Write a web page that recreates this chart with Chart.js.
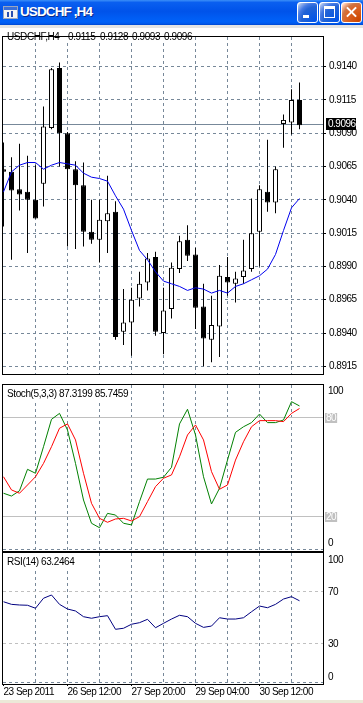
<!DOCTYPE html>
<html><head><meta charset="utf-8">
<script src="https://cdn.jsdelivr.net/npm/chart.js@4.4.0/dist/chart.umd.min.js"></script>
<style>
html,body{margin:0;padding:0;background:#fff;width:363px;height:703px;overflow:hidden;position:relative;}
#tb{position:absolute;left:0;top:0;width:363px;height:25px;background:linear-gradient(180deg,#3b8ff8 0%,#0a5ff0 10%,#0053ea 45%,#0061f8 85%,#005bf0 93%,#0047d0 100%);}
#ico{position:absolute;left:3px;top:6px;width:13px;height:11px;background:#f4f4f4;border:1px solid #9aa6c0;}
#ico .a{position:absolute;left:0;top:0;width:13px;height:3px;background:#3a6fd8;}
#ico .b{position:absolute;left:3px;top:5px;width:2px;height:5px;background:#2a4fb0;}
#ico .c{position:absolute;left:7px;top:4px;width:2px;height:6px;background:#2a4fb0;}
#ttl{position:absolute;left:20px;top:4px;color:#fff;font:bold 13.5px "Liberation Sans",Arial,sans-serif;letter-spacing:-0.9px;text-shadow:1px 1px #0a2a8a;white-space:pre;}
.btn{position:absolute;top:2px;width:19px;height:19px;border:1px solid #fff;border-radius:3px;background:radial-gradient(circle at 90% 90%,#0054e9 0%,#2263d5 55%,#4479e4 70%,#a3bbec 90%,#fff 100%);}
#bmin{left:297px}#bmax{left:319px}
#bcls{left:341px;background:radial-gradient(circle at 90% 90%,#cc4600 0%,#dc6527 55%,#cd7546 70%,#ffccb2 90%,#fff 100%);}
#bmin .g{position:absolute;left:5px;top:12px;width:6px;height:3px;background:#fff;}
#bmax .g{position:absolute;left:4px;top:3px;width:9px;height:8px;border:1px solid #fff;border-top-width:3px;}
#bcls .x{position:absolute;left:3px;top:8px;width:13px;height:2px;background:#fff;}
#bcls .x1{transform:rotate(45deg);}#bcls .x2{transform:rotate(-45deg);}
#strip{position:absolute;left:0;top:25px;width:363px;height:3px;background:#e4e4e4;}
#bot{position:absolute;left:0;top:700px;width:363px;height:3px;background:#ece9d8;}
canvas{position:absolute;left:0;}
</style></head><body>
<div id="tb"><div id="ico"><div class="a"></div><div class="b"></div><div class="c"></div></div>
<div id="ttl">USDCHF ,H4</div>
<div class="btn" id="bmin"><div class="g"></div></div>
<div class="btn" id="bmax"><div class="g"></div></div>
<div class="btn" id="bcls"><div class="x x1"></div><div class="x x2"></div></div></div>
<div id="strip"></div>
<canvas id="cMain" width="363" height="355" style="top:28px"></canvas>
<canvas id="cSto" width="363" height="169" style="top:383px"></canvas>
<canvas id="cRsi" width="363" height="148" style="top:552px"></canvas>
<div id="bot"></div>
<script>
// ---------------- data ----------------
const symbol = 'USDCHF,H4';
const times = ['2011.09.23 04:00','2011.09.23 08:00','2011.09.23 12:00','2011.09.23 16:00','2011.09.23 20:00',
 '2011.09.26 00:00','2011.09.26 04:00','2011.09.26 08:00','2011.09.26 12:00','2011.09.26 16:00','2011.09.26 20:00',
 '2011.09.27 00:00','2011.09.27 04:00','2011.09.27 08:00','2011.09.27 12:00','2011.09.27 16:00','2011.09.27 20:00',
 '2011.09.28 00:00','2011.09.28 04:00','2011.09.28 08:00','2011.09.28 12:00','2011.09.28 16:00','2011.09.28 20:00',
 '2011.09.29 00:00','2011.09.29 04:00','2011.09.29 08:00','2011.09.29 12:00','2011.09.29 16:00','2011.09.29 20:00',
 '2011.09.30 00:00','2011.09.30 04:00','2011.09.30 08:00','2011.09.30 12:00','2011.09.30 16:00','2011.09.30 20:00',
 '2011.10.03 00:00','2011.10.03 04:00','2011.10.03 08:00'];
const open  = [0.9063,0.9061,0.9048,0.9046,0.9040,0.9052,0.9094,0.9139,0.9090,0.9063,0.9051,0.9016,0.9010,0.9024,0.9031,0.8941,0.8948,0.8966,0.8978,0.8997,0.8940,0.8958,0.8988,0.9010,0.8999,0.8960,0.8935,0.8945,0.8982,0.8977,0.8982,0.8988,0.9016,0.9046,0.9038,0.9097,0.9098,0.9115];
const high  = [0.9083,0.9072,0.9082,0.9073,0.9066,0.9110,0.9139,0.9143,0.9091,0.9069,0.9068,0.9040,0.9040,0.9058,0.9039,0.8973,0.8974,0.8986,0.9000,0.9001,0.8974,0.8993,0.9013,0.9021,0.9004,0.8977,0.8968,0.8991,0.8997,0.8986,0.9010,0.9041,0.9051,0.9085,0.9065,0.9104,0.9123,0.9128];
const low   = [0.9020,0.8995,0.9032,0.9000,0.9026,0.9035,0.9093,0.9065,0.9005,0.9003,0.9005,0.9007,0.8993,0.9000,0.8935,0.8931,0.8923,0.8960,0.8972,0.8938,0.8924,0.8951,0.8985,0.8994,0.8943,0.8915,0.8918,0.8922,0.8968,0.8963,0.8977,0.8986,0.8990,0.9031,0.9030,0.9079,0.9089,0.9093];
const close = [0.9061,0.9047,0.9044,0.9040,0.9026,0.9095,0.9138,0.9090,0.9063,0.9051,0.9016,0.9010,0.9025,0.9030,0.8937,0.8948,0.8965,0.8977,0.8996,0.8941,0.8957,0.8989,0.9009,0.8998,0.8959,0.8936,0.8946,0.8983,0.8978,0.8981,0.8987,0.9015,0.9048,0.9038,0.9063,0.9100,0.9115,0.9096];
const maVals = [0.9046,0.9061,0.9066,0.9068,0.9068,0.9063,0.9066,0.9068,0.9067,0.9066,0.9060,0.9057,0.9056,0.9054,0.9043,0.9033,0.9017,0.9002,0.8995,0.8986,0.8979,0.8977,0.8975,0.8972,0.8974,0.8973,0.8970,0.8972,0.8970,0.8975,0.8977,0.8980,0.8983,0.8988,0.8999,0.9017,0.9034,0.9041];
const stochMain = [34.4,32.7,35.9,48.9,46.5,62.6,79.2,82.8,72.7,52.5,30.3,16.2,13.5,22.2,21.2,16.2,15.2,29.3,43.0,43.0,44.1,50.1,76.4,85.3,69.7,44.4,27.9,37.4,54.5,71.3,74.7,77.2,82.4,77.2,77.2,78.8,89.9,87.3199];
const stochSignal = [44.4,36.4,34.4,39.4,44.4,52.5,62.6,73.8,76.4,66.7,46.5,28.3,19.2,16.8,18.8,19.2,17.6,20.2,29.3,38.4,43.5,45.5,56.5,69.7,75.8,66.7,47.5,36.8,39.4,54.5,65.6,74.7,78.4,78.4,78.4,77.8,82.8,85.7459];
const rsiVals = [62.5,60.5,60.0,59.8,57.5,65.2,67.7,60.5,56.9,55.4,51.0,49.8,51.0,51.8,41.3,42.1,45.2,46.4,49.0,42.5,45.9,49.2,52.1,51.0,45.9,42.8,43.8,50.2,49.2,49.2,50.2,54.8,59.2,57.9,60.5,64.6,66.4,63.2464];
const priceTicks = [0.9140,0.9115,0.9090,0.9065,0.9040,0.9015,0.8990,0.8965,0.8940,0.8915];
const gridIdx = [4,8,12,16,20,24,28,32,36];
const timeTickIdx = [0,8,16,24,32];
const timeTickLabels = ['23 Sep 2011','26 Sep 12:00','27 Sep 20:00','29 Sep 04:00','30 Sep 12:00'];
const stochLevels = [80,20];
const rsiLevels = [70,30];

// ---------------- styling ----------------
const FONT = '"Liberation Sans", Arial, sans-serif';
const GRID = '#778899';
const X_MIN = -0.0625, X_MAX = 39.9375;
const idx = times.map((t, i) => i);

const spacingPlugin = {id:'spacing', beforeDraw(c){ try { c.ctx.letterSpacing = '-0.5px'; } catch(e){} }};
const framePlugin = {id:'frame', afterDraw(c){
  const {ctx, chartArea:a} = c; ctx.save(); ctx.strokeStyle='#000'; ctx.lineWidth=1; ctx.setLineDash([]);
  ctx.strokeRect(a.left-0.5, a.top-0.5, a.right-a.left+1, a.bottom-a.top+1); ctx.restore();
}};
function setTitleFont(ctx){ ctx.font='10px '+FONT; try { ctx.letterSpacing='-0.4px'; } catch(e){} }
function textPlugin(id, items, bgBottom){ return {id,
  beforeDatasetsDraw(c){ const {ctx, chartArea:a} = c; ctx.save(); setTitleFont(ctx);
    let r = a.left; items.forEach(it=>{ r = Math.max(r, it.x + ctx.measureText(it.t).width); });
    ctx.fillStyle='#fff'; ctx.fillRect(a.left, a.top, Math.ceil(r - a.left + 2), bgBottom - a.top); ctx.restore(); },
  afterDraw(c){ const ctx=c.ctx; ctx.save(); ctx.fillStyle='#000'; ctx.textBaseline='middle'; setTitleFont(ctx);
    items.forEach(it=>ctx.fillText(it.t, it.x, it.y)); ctx.restore(); }}; }

function xScale(withLabels, h){
  const ticksArr = withLabels ? [0].concat(gridIdx) : gridIdx;
  return { type:'linear', min:X_MIN, max:X_MAX, offset:false,
    afterBuildTicks:s=>{ s.ticks = ticksArr.map(v=>({value:v})); },
    afterFit:s=>{ s.height = h; },
    ticks:{ display:withLabels, autoSkip:false, maxRotation:0, minRotation:0, align:'start', padding:0,
      color:'#000', font:{family:FONT, size:10},
      callback:v=>{ const j = timeTickIdx.indexOf(v); return j>=0 ? timeTickLabels[j] : ''; } },
    grid:{ offset:false, color:c=> (c.tick && c.tick.value===0) ? 'rgba(0,0,0,0)' : GRID,
      drawTicks:withLabels, tickLength:2, tickBorderDash:[],
      tickColor:c=> (c.tick && timeTickIdx.indexOf(c.tick.value)>=0) ? '#000' : 'rgba(0,0,0,0)' },
    border:{ color:'#000', dash:[3,3] } };
}
const baseOpts = { responsive:false, animation:false, events:[],
  plugins:{ legend:{display:false}, tooltip:{enabled:false} } };

// ---------------- main chart ----------------
const lastI = close.length-1;
const ohlcText = [open[lastI],high[lastI],low[lastI],close[lastI]].map(v=>v.toFixed(4));
const mainTitle = textPlugin('mt', [{t:symbol, x:7, y:9.5}].concat(ohlcText.map((t,j)=>({t, x:68+32*j, y:9.5}))), 15);
const pricePlugin = {id:'price',
  beforeDatasetsDraw(c){ const {ctx, chartArea:a} = c; const y = Math.round(c.scales.y.getPixelForValue(close[lastI]))-0.5;
    ctx.save(); ctx.strokeStyle=GRID; ctx.lineWidth=1; ctx.beginPath(); ctx.moveTo(a.left,y); ctx.lineTo(a.right,y); ctx.stroke(); ctx.restore(); },
  afterDraw(c){ const {ctx, chartArea:a} = c; const y = Math.round(c.scales.y.getPixelForValue(close[lastI]));
    ctx.save(); ctx.fillStyle='#000'; ctx.fillRect(a.right+3, y-7, 30, 12);
    ctx.fillStyle='#fff'; ctx.font='10px '+FONT; try { ctx.letterSpacing='-0.5px'; } catch(e){}
    ctx.textBaseline='middle'; ctx.fillText(close[lastI].toFixed(4), a.right+5, y-0.5); ctx.restore(); }};

new Chart(document.getElementById('cMain'), {
  type:'bar',
  data:{ datasets:[
    {type:'line', data: idx.map(i=>({x:i, y:maVals[i]})), borderColor:'#0000ee', borderWidth:1, pointRadius:0, tension:0},
    {data: idx.map(i=>({x:i, y:[open[i], close[i]]})), backgroundColor: idx.map(i=> close[i]>=open[i] ? '#ffffff' : '#000000'),
      borderColor:'#000', borderWidth:1, borderSkipped:false, barThickness:5, grouped:false, inflateAmount:0},
    {data: idx.map(i=>({x:i, y:[low[i], high[i]]})), backgroundColor:'#000', borderWidth:0, barThickness:1, grouped:false, inflateAmount:0}
  ]},
  options: Object.assign({}, baseOpts, {
    layout:{ padding:{left:3, top:1, right:0, bottom:1} },
    scales:{
      x: xScale(false, 0),
      y: { position:'right', min:0.8909267, max:0.9162213,
        afterBuildTicks:s=>{ s.ticks = priceTicks.map(v=>({value:v})); },
        afterFit:s=>{ s.width = 40; },
        ticks:{ autoSkip:false, color:'#000', font:{family:FONT, size:10}, padding:3, callback:v=>Number(v).toFixed(4) },
        grid:{ color:GRID, tickColor:'#000', tickLength:3, tickBorderDash:[] },
        border:{ color:'#000', dash:[3,3] } }
    }
  }),
  plugins:[spacingPlugin, mainTitle, pricePlugin, framePlugin]
});

// ---------------- level helpers ----------------
function levelPlugin(id, cfg){ return {id,
  beforeDatasetsDraw(c){ const {ctx, chartArea:a} = c; const ys = c.scales.y; ctx.save(); ctx.lineWidth=1;
    cfg.lines.forEach(l=>{ const y = Math.round(ys.getPixelForValue(l.v))-0.5; ctx.strokeStyle=l.color; ctx.setLineDash(l.dash);
      ctx.beginPath(); ctx.moveTo(a.left,y); ctx.lineTo(a.right,y); ctx.stroke(); });
    ctx.restore(); },
  afterDraw(c){ const {ctx, chartArea:a} = c; const ys = c.scales.y; ctx.save(); ctx.font='10px '+FONT; ctx.textBaseline='middle';
    try { ctx.letterSpacing='-0.5px'; } catch(e){}
    cfg.labels.forEach(l=>{ const y = ys.getPixelForValue(l.v)+l.dy;
      if (l.box){ const w = ctx.measureText(l.t).width+2; ctx.fillStyle='#c0c0c0'; ctx.fillRect(a.right+2, Math.round(y)-5, w, 10); ctx.fillStyle='#fff'; ctx.fillText(l.t, a.right+3, y); }
      else { ctx.fillStyle='#000'; ctx.fillText(l.t, a.right+5, y); } });
    ctx.restore(); } }; }
function yInd(min){ return { position:'right', min, max:100, afterFit:s=>{ s.width = 40; },
  ticks:{display:false}, grid:{display:false}, border:{color:'#000'} }; }

// ---------------- stochastic ----------------
new Chart(document.getElementById('cSto'), {
  type:'line',
  data:{ datasets:[
    {data: idx.map(i=>({x:i, y:stochSignal[i]})), borderColor:'#ff0000', borderWidth:1, pointRadius:0, tension:0},
    {data: idx.map(i=>({x:i, y:stochMain[i]})), borderColor:'#008000', borderWidth:1, pointRadius:0, tension:0}
  ]},
  options: Object.assign({}, baseOpts, {
    layout:{ padding:{left:3, top:2, right:0, bottom:1} },
    scales:{ x: xScale(false, 0), y: yInd(-0.606) }
  }),
  plugins:[levelPlugin('sl', {
      lines: stochLevels.map(v=>({v, color:'#c0c0c0', dash:[]})).concat([{v:0, color:GRID, dash:[3,3]}]),
      labels: [{v:100, t:'100', dy:6.5}].concat(stochLevels.map(v=>({v, t:String(v), dy:0, box:true}))).concat([{v:0, t:'0', dy:-6.5}]) }),
    textPlugin('st', [{t:'Stoch(5,3,3) '+stochMain[lastI].toFixed(4)+' '+stochSignal[lastI].toFixed(4), x:7, y:11}], 17),
    framePlugin]
});

// ---------------- RSI ----------------
new Chart(document.getElementById('cRsi'), {
  type:'line',
  data:{ datasets:[
    {data: idx.map(i=>({x:i, y:rsiVals[i]})), borderColor:'#000080', borderWidth:1, pointRadius:0, tension:0}
  ]},
  options: Object.assign({}, baseOpts, {
    layout:{ padding:{left:3, top:1, right:0, bottom:0} },
    scales:{ x: xScale(true, 16), y: yInd(-0.77) }
  }),
  plugins:[spacingPlugin, levelPlugin('rl', {
      lines: rsiLevels.map(v=>({v, color:'#c0c0c0', dash:[3,3]})).concat([{v:0, color:GRID, dash:[3,3]}]),
      labels: [{v:100, t:'100', dy:7}].concat(rsiLevels.map(v=>({v, t:String(v), dy:0}))).concat([{v:0, t:'0', dy:-5.5}]) }),
    textPlugin('rt', [{t:'RSI(14) '+rsiVals[lastI].toFixed(4), x:7, y:10}], 16),
    framePlugin]
});
</script>
</body></html>
